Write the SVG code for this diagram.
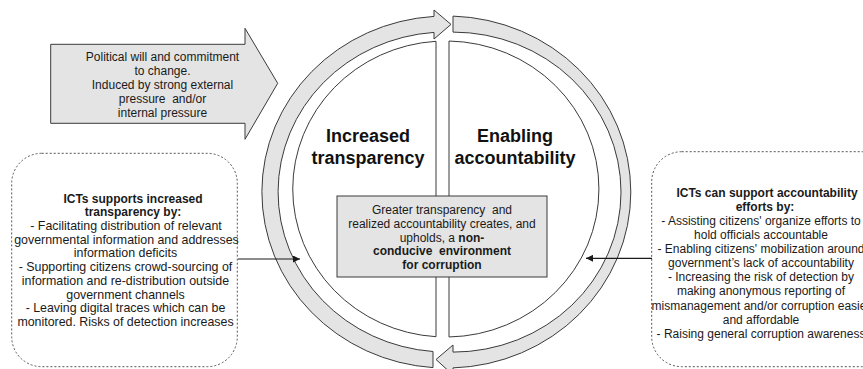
<svg xmlns="http://www.w3.org/2000/svg" width="863" height="369" viewBox="0 0 863 369">
<defs>
<style>
.t{font-family:"Liberation Sans",Arial,Helvetica,sans-serif;font-size:12px;fill:#1a1a1a;text-anchor:middle}
.l{font-size:12.4px}
.b{font-weight:bold}
.big{font-family:"Liberation Sans",Arial,Helvetica,sans-serif;font-size:18px;font-weight:bold;fill:#111;text-anchor:middle}
.band{fill:#e4e4e4;stroke:#3a3a3a;stroke-width:1}
.half{fill:#fff;stroke:#3a3a3a;stroke-width:1}
.box{fill:#e4e4e4;stroke:#3a3a3a;stroke-width:1}
.dot{fill:#fff;stroke:#555;stroke-width:1;stroke-dasharray:2 2}
.con{stroke:#1a1a1a;stroke-width:1.2;fill:none;marker-end:url(#ah)}
</style>
<marker id="ah" viewBox="0 0 10 10" refX="10" refY="5" markerWidth="7" markerHeight="7" orient="auto" markerUnits="userSpaceOnUse">
<path d="M0,0 L10,5 L0,10 Z" fill="#1a1a1a"/>
</marker>
</defs>
<rect width="863" height="369" fill="#fff"/>

<g id="ring">
<path class="band" d="M 433,367.6 A 184,176 0 0 1 434,16.4 L 434,10 L 451,24.4 L 434,39 L 434,32.4 A 168,160 0 0 0 433,351.5 Z"/>
<path class="band" d="M 453,16.1 A 184,176 0 0 1 453,367.9 L 453,375 L 436,359.5 L 453,345 L 453,352.1 A 168,160 0 0 0 453,32.1 Z"/>
</g>

<g id="increased-transparency">
<path class="half" d="M 436,41.3 A 153,148 0 0 0 436,336.7 Z"/>
<text class="big" x="368" y="142">Increased</text>
<text class="big" x="368" y="164">transparency</text>
</g>

<g id="enabling-accountability">
<path class="half" d="M 449,41.03 A 153,148 0 0 1 449,336.97 Z"/>
<text class="big" x="515" y="142">Enabling</text>
<text class="big" x="515" y="164">accountability</text>
</g>

<g id="center-box">
<rect class="box" x="337" y="196" width="210" height="81"/>
<text class="t" x="442" y="214.3" xml:space="preserve">Greater transparency  and</text>
<text class="t" x="442" y="228">realized accountability creates, and</text>
<text class="t" x="442" y="241.7">upholds, a <tspan class="b">non-</tspan></text>
<text class="t b" x="442" y="255.4" xml:space="preserve">conducive  environment</text>
<text class="t b" x="442" y="269.1">for corruption</text>
</g>

<g id="political-will">
<polygon class="box" points="50.7,44.3 245,44.3 245,28.3 277.7,83.3 245,139.3 245,123.3 50.7,123.3"/>
<text class="t" x="162.5" y="61">Political will and commitment</text>
<text class="t" x="162.5" y="75">to change.</text>
<text class="t" x="162.5" y="89">Induced by strong external</text>
<text class="t" x="162.5" y="103" xml:space="preserve">pressure  and/or</text>
<text class="t" x="162.5" y="117">internal pressure</text>
</g>

<g id="ict-transparency">
<rect class="dot" x="11.7" y="153.3" width="225.6" height="213.4" rx="30" ry="30"/>
<text class="t b" x="133" y="202.6">ICTs supports increased</text>
<text class="t b" x="133" y="216.3">transparency by:</text>
<text class="t l" x="126" y="230">- Facilitating distribution of relevant</text>
<text class="t l" x="126.5" y="243.7">governmental information and addresses</text>
<text class="t l" x="125.5" y="257.4">information deficits</text>
<text class="t l" x="125.5" y="271.1">- Supporting citizens crowd-sourcing of</text>
<text class="t l" x="125.5" y="284.8">information and re-distribution outside</text>
<text class="t l" x="125.5" y="298.5">government channels</text>
<text class="t l" x="125.5" y="312.2">- Leaving digital traces which can be</text>
<text class="t l" x="125.5" y="325.9">monitored. Risks of detection increases</text>
</g>

<g id="ict-accountability">
<rect class="dot" x="651.7" y="151.7" width="240" height="215" rx="30" ry="30"/>
<text class="t b" x="767" y="197">ICTs can support accountability</text>
<text class="t b" x="765" y="211.1">efforts by:</text>
<text class="t" x="761" y="225.1">- Assisting citizens' organize efforts to</text>
<text class="t" x="761" y="239.2">hold officials accountable</text>
<text class="t" x="761" y="253.2">- Enabling citizens' mobilization around</text>
<text class="t" x="761" y="267.3">government’s lack of accountability</text>
<text class="t" x="761" y="281.4">- Increasing the risk of detection by</text>
<text class="t" x="761" y="295.4">making anonymous reporting of</text>
<text class="t" x="761" y="309.5">mismanagement and/or corruption easier</text>
<text class="t" x="761" y="323.5">and affordable</text>
<text class="t" x="761" y="337.6">- Raising general corruption awareness</text>
</g>

<g id="connectors">
<line class="con" x1="238" y1="259" x2="300" y2="259"/>
<line class="con" x1="652" y1="258.3" x2="586" y2="258.3"/>
</g>
</svg>
